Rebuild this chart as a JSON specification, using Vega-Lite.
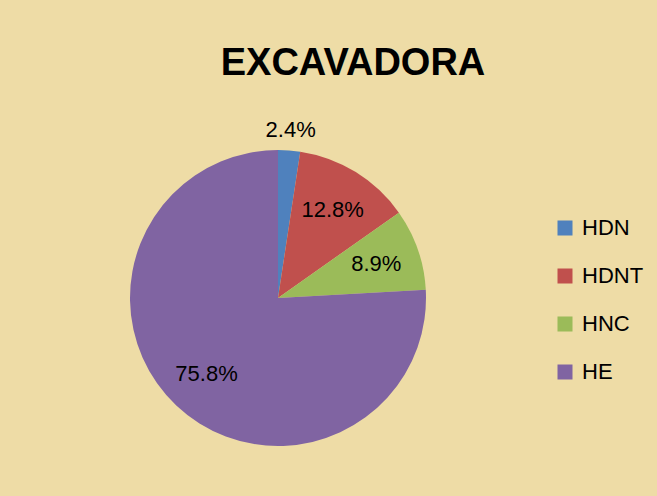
{
  "$schema": "https://vega.github.io/schema/vega-lite/v6.json",
  "autosize": "none",
  "width": 296,
  "height": 296,
  "padding": {"left": 130, "top": 150, "right": 231, "bottom": 50},
  "background": "#EEDCA6",
  "config": {"view": {"stroke": null}},
  "title": {
    "text": "EXCAVADORA",
    "font": "Liberation Sans",
    "fontSize": 38,
    "fontWeight": "bold",
    "color": "#000000",
    "anchor": "middle",
    "baseline": "alphabetic",
    "offset": 6,
    "dx": 75
  },
  "data": {
    "values": [
      {"cat": "HDN", "share": 0.024, "idx": 1},
      {"cat": "HDNT", "share": 0.128, "idx": 2},
      {"cat": "HNC", "share": 0.089, "idx": 3},
      {"cat": "HE", "share": 0.758, "idx": 4}
    ]
  },
  "encoding": {
    "theta": {"field": "share", "type": "quantitative", "stack": true},
    "order": {"field": "idx", "type": "quantitative"},
    "color": {
      "field": "cat",
      "type": "nominal",
      "scale": {
        "domain": ["HDN", "HDNT", "HNC", "HE"],
        "range": ["#4F81BD", "#C0504D", "#9BBB59", "#8064A2"]
      },
      "legend": {
        "title": null,
        "orient": "none",
        "legendX": 424,
        "legendY": 67,
        "symbolType": "square",
        "symbolSize": 225,
        "symbolStrokeWidth": 0,
        "labelFont": "Liberation Sans",
        "labelFontSize": 22,
        "labelColor": "#000000",
        "labelOffset": 6,
        "rowPadding": 26
      }
    }
  },
  "layer": [
    {"mark": {"type": "arc", "stroke": null}},
    {
      "mark": {"type": "text", "radius": 168, "font": "Liberation Sans", "fontSize": 22, "color": "#000000"},
      "encoding": {
        "text": {"condition": {"test": "datum.share < 0.05", "field": "share", "format": ".1%"}, "value": ""},
        "color": {"value": "#000000"}
      }
    },
    {
      "mark": {"type": "text", "radius": 104, "font": "Liberation Sans", "fontSize": 22, "color": "#000000"},
      "encoding": {
        "text": {"condition": {"test": "datum.share >= 0.05", "field": "share", "format": ".1%"}, "value": ""},
        "color": {"value": "#000000"}
      }
    }
  ]
}
